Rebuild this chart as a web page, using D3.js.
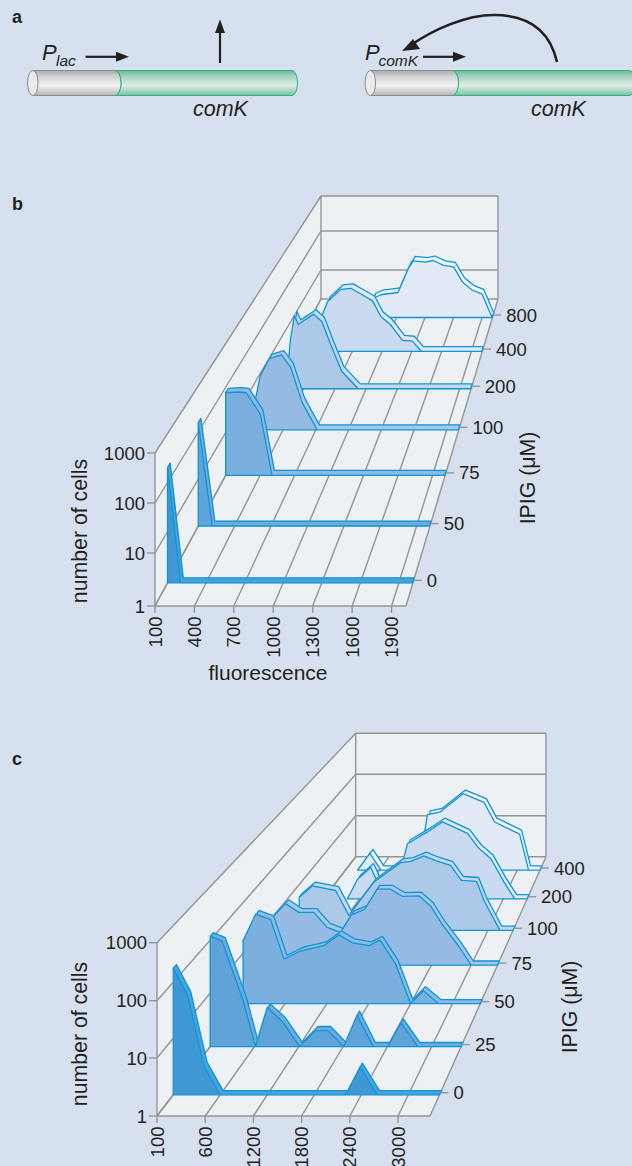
<!DOCTYPE html>
<html><head><meta charset="utf-8">
<script src="https://cdn.jsdelivr.net/npm/d3@7/dist/d3.min.js"></script>
<style>html,body{margin:0;padding:0;background:#d7e0ef}svg{display:block}text{font-family:"Liberation Sans",Arial,sans-serif;fill:#231f20}</style>
</head><body><div id="chart"></div>
<script>
// Panel b: [fluorescence, number of cells]
const b800=[[680,1],[757,3.5],[835,4.4],[1015,5.1],[1127,25],[1176,40],[1303,37],[1384,41],[1496,30],[1601,27],[1696,10],[1795,6],[1901,4.6],[2006,1]];
const b400=[[300,1],[392,8.7],[453,22],[586,47],[687,50],[805,33],[905,23],[988,8.7],[1082,5.4],[1206,2],[1307,1.9],[1397,1],[2006,1]];
const b200=[[230,1],[272,17.5],[310,73],[348,44],[496,80],[576,51],[662,13],[765,2.8],[924,1],[2006,1]];
const b100=[[100,1],[148,5.5],[191,20],[274,52],[385,64],[471,32],[575,4.6],[712,1],[2006,1]];
const b75=[[100,76],[213,79],[280,76],[402,24.5],[503,1],[2006,1]];
const b50=[[100,164],[215,1],[2006,1]];
const b0=[[100,209],[202,1],[2006,1]];
const bSeries=[b0,b50,b75,b100,b200,b400,b800];
const bDepthLabels=["0","50","75","100","200","400","800"];
const bXTicks=[100,400,700,1000,1300,1600,1900];
const bXLabels=["100","400","700","1000","1300","1600","1900"];

// Panel c
const c400=[[213,1],[428,2.5],[619,1],[1386,1],[1386,8.6],[1433,21],[1647,24],[2055,66],[2421,41],[2606,14],[3042,7.2],[3199,1],[3398,1]];
const c200=[[402,1],[568,2.8],[790,5.2],[907,2.3],[986,1],[1300,1],[1320,6.7],[1402,18],[1735,33.6],[1985,57],[2402,31],[2596,14],[2791,8.3],[3012,2.4],[3191,1],[3398,1]];
const c100=[[0,5.3],[208,9.3],[578,7.4],[790,2.1],[844,2.7],[1187,11.3],[1611,30],[1770,32],[1981,42],[2167,33],[2405,26],[2576,12.3],[2818,11.7],[2946,4.2],[3189,1],[3398,1]];
const c75=[[0,10],[195,19],[396,12.5],[622,12.5],[825,6.1],[1026,4.8],[1188,11],[1393,14.6],[1580,38],[1781,38],[1958,27],[2209,27.6],[2386,17],[2560,7.1],[2809,2.5],[3001,1],[3398,1]];
const c50=[[0,17.6],[180,59],[395,46],[586,7.6],[825,11],[1158,14],[1373,23],[1565,16],[1803,14],[1963,18],[2185,6.1],[2400,1],[2582,1.8],[2805,1],[3398,1]];
const c25=[[0,118],[162,95],[298,28],[455,6.7],[613,1],[772,5.4],[975,3],[1213,1],[1426,2],[1598,2],[1809,1],[1990,3.9],[2207,1],[2405,1],[2586,2.8],[2811,1],[3398,1]];
const c0=[[0,176],[181,59],[394,3.2],[598,1],[2202,1],[2385,3.1],[2606,1],[3398,1]];
const cSeries=[c0,c25,c50,c75,c100,c200,c400];
const cDepthLabels=["0","25","50","75","100","200","400"];
const cXTicks=[0,600,1200,1800,2400,3000];
const cXLabels=["100","600","1200","1800","2400","3000"];

const yTickValues=[1,10,100,1000];
const fillColors=["#3f98d3","#5fa3d8","#7bafdd","#95bae3","#adc9e9","#c9daf1","#e1eaf6"];
const ribbonColors=["#4aa2dc","#6dabdf","#8cbae4","#a6c7e9","#c4d9f0","#dfe9f6","#f1f6fb"];
const stroke="#0f95d5", gridColor="#939597";

const W=632,H=1166;
const svg=d3.select("#chart").append("svg").attr("width",W).attr("height",H);
svg.append("rect").attr("width",W).attr("height",H).attr("fill","#d7e0ef");
const defs=svg.append("defs");
function grad(id,stops){const g=defs.append("linearGradient").attr("id",id).attr("x1",0).attr("x2",0).attr("y1",0).attr("y2",1);
  stops.forEach(([o,c])=>g.append("stop").attr("offset",o).attr("stop-color",c));}
grad("grey",[[0,"#a9abad"],[.25,"#d2d3d4"],[.6,"#f4f4f4"],[1,"#b3b4b6"]]);
grad("green",[[0,"#6fb79c"],[.25,"#a8d3c2"],[.6,"#dcede6"],[1,"#7cbea6"]]);

function txt(x,y,s,size,opt={}){const t=svg.append("text").attr("x",x).attr("y",y).attr("font-size",size).text(s);
  if(opt.italic)t.attr("font-style","italic"); if(opt.bold)t.attr("font-weight",700);
  if(opt.anchor)t.attr("text-anchor",opt.anchor); return t;}

// Panel a
function cylinder(dx){
  const g=svg.append("g").attr("transform",`translate(${dx},0)`);
  g.append("path").attr("d","M115,70.5 L292,70.5 A5.5,12.5 0 0 1 292,95.5 L115,95.5 A6,12.5 0 0 0 115,70.5Z").attr("fill","url(#green)").attr("stroke","#2db57a").attr("stroke-width",1);
  g.append("path").attr("d","M33,70.5 L115,70.5 A6,12.5 0 0 1 115,95.5 L33,95.5 A5.5,12.5 0 0 1 33,70.5Z").attr("fill","url(#grey)");
  g.append("path").attr("d","M33,70.5 L115,70.5 M33,95.5 L115,95.5").attr("stroke","#8a8c8e").attr("stroke-width",1);
  g.append("path").attr("d","M115,70.5 A6,12.5 0 0 1 115,95.5").attr("fill","none").attr("stroke","#2db57a").attr("stroke-width",1);
  g.append("ellipse").attr("cx",32.8).attr("cy",83).attr("rx",5.3).attr("ry",12.5).attr("fill","#e9eaea").attr("stroke","#8a8c8e").attr("stroke-width",1);
}
cylinder(0);cylinder(337.5);
function arrowH(x1,x2,y){svg.append("path").attr("d",`M${x1},${y}H${x2-12}`).attr("stroke","#231f20").attr("stroke-width",2.2);
  svg.append("path").attr("d",`M${x2},${y}L${x2-13},${y-5}V${y+5}Z`).attr("fill","#231f20");}
arrowH(85.5,129,56.8);arrowH(423,466,56.8);
svg.append("path").attr("d","M220,63V30").attr("stroke","#231f20").attr("stroke-width",2.2);
svg.append("path").attr("d","M220,19.5L225,33H215Z").attr("fill","#231f20");
svg.append("path").attr("d","M557,62C549,27 524,15 494,15C465,15 433,30 411,45").attr("fill","none").attr("stroke","#231f20").attr("stroke-width",2.6);
svg.append("path").attr("d","M402,51L413,39L420,49Z").attr("fill","#231f20");
txt(12,23,"a",18,{bold:true});txt(12,210,"b",18,{bold:true});txt(12,765,"c",18,{bold:true});
txt(42,60,"P",22,{italic:true});txt(56,66,"lac",15.5,{italic:true});
txt(193,116,"comK",21.5,{italic:true});
txt(365,60,"P",22,{italic:true});txt(378.5,66,"comK",15.5,{italic:true});
txt(531,116,"comK",21.5,{italic:true});

// Panel drawing: perspective box
function panel(cfg){
  const g=svg.append("g");
  const K=0.43, DS=0.016;
  const persp=d=>d*(1+K)/(1+K*d);
  const depth=d3.scaleLinear().domain([0,6]).range(cfg.depthRange);
  const xU=d3.scaleLinear().domain(cfg.xDomain).range([0,1]);
  const yV=d3.scaleLog().domain([1,1000]).range([0,1]);
  const left=d3.scaleLinear().domain([0,1]).range([cfg.fl,cfg.bl]);
  const right=d3.scaleLinear().domain([0,1]).range([cfg.fr,cfg.br]);
  const floorY=d3.scaleLinear().domain([0,1]).range([cfg.fy,cfg.by]);
  const height=d3.scaleLinear().domain([0,1]).range([cfg.fh,cfg.bh]);
  const wallF=d3.scaleLog().domain(yTickValues).range(cfg.frontRows);
  const wallB=d3.scaleLog().domain(yTickValues).range(cfg.backRows);
  const px=(x,s)=>{const u=xU(x);return left(s)+u*(right(s)-left(s));};
  const py=(c,s)=>floorY(s)-yV(c)*height(s);
  const poly=d3.line().x(p=>p[0]).y(p=>p[1]);
  const closed=pts=>poly(pts)+"Z";
  const top1000=yTickValues[3];
  // walls
  g.append("path").attr("d",closed([[cfg.fl,wallF(top1000)],[cfg.fl,cfg.fy],[cfg.bl,cfg.by],[cfg.bl,wallB(top1000)]])).attr("fill","#edf1f3");
  g.append("path").attr("d",closed([[cfg.bl,wallB(top1000)],[cfg.br,wallB(top1000)],[cfg.br,cfg.by],[cfg.bl,cfg.by]])).attr("fill","#edf1f3");
  g.append("path").attr("d",closed([[cfg.fl,cfg.fy],[cfg.fr,cfg.fy],[cfg.br,cfg.by],[cfg.bl,cfg.by]])).attr("fill","#edf1f3");
  const ln=(a,b)=>g.append("path").attr("d",poly([a,b])).attr("stroke",gridColor).attr("stroke-width",1.4).attr("fill","none");
  yTickValues.forEach(v=>{
    ln([cfg.fl,wallF(v)],[cfg.bl,wallB(v)]);
    ln([cfg.bl,wallB(v)],[cfg.br,wallB(v)]);
    ln([cfg.fl-8,wallF(v)],[cfg.fl,wallF(v)]);
    g.append("text").attr("x",cfg.fl-10).attr("y",wallF(v)+6.5).attr("text-anchor","end").attr("font-size",18.5).text(v);
  });
  ln([cfg.fl,wallF(top1000)],[cfg.fl,cfg.fy]);
  ln([cfg.bl,wallB(top1000)],[cfg.bl,cfg.by]);
  ln([cfg.br,wallB(top1000)],[cfg.br,cfg.by]);
  ln([cfg.fl,cfg.fy],[cfg.fr,cfg.fy]);
  ln([cfg.fr,cfg.fy],[cfg.br,cfg.by]);
  cfg.xTicks.forEach((t,i)=>{
    ln([px(t,0),floorY(0)],[px(t,1),floorY(1)]);
    ln([px(t,0),floorY(0)],[px(t,0),floorY(0)+7]);
    const x=px(t,0)+6.5,y=floorY(0)+10.5;
    g.append("text").attr("x",x).attr("y",y).attr("text-anchor","end").attr("font-size",18.5).attr("transform",`rotate(-90 ${x} ${y})`).text(cfg.xLabels[i]);
  });
  // series back to front
  d3.range(cfg.series.length-1,-1,-1).forEach(i=>{
    const data=cfg.series[i], s=persp(depth(i)), sb=s+DS;
    const ribbon=g.append("g");
    d3.pairs(data).forEach(([a,b])=>{
      ribbon.append("path").attr("d",closed([[px(a[0],s),py(a[1],s)],[px(b[0],s),py(b[1],s)],[px(b[0],sb),py(b[1],sb)],[px(a[0],sb),py(a[1],sb)]]))
        .attr("fill",ribbonColors[i]).attr("stroke",ribbonColors[i]).attr("stroke-width",.4);
    });
    const backPts=data.map(d=>[px(d[0],sb),py(d[1],sb)]);
    const n=data.length-1;
    const outline=[[px(data[0][0],s),py(data[0][1],s)],...backPts,[px(data[n][0],s),py(data[n][1],s)]];
    ribbon.append("path").attr("d",poly(outline)).attr("fill","none").attr("stroke",stroke).attr("stroke-width",1.3).attr("stroke-linejoin","round");
    const first=data[0][0], last=data[n][0];
    const pts=[[px(first,s),floorY(s)],...data.map(d=>[px(d[0],s),py(d[1],s)]),[px(last,s),floorY(s)]];
    g.append("path").attr("d",closed(pts)).attr("fill",fillColors[i]).attr("stroke",stroke).attr("stroke-width",1.3).attr("stroke-linejoin","round");
    // depth tick and label
    const sm=s+DS/2, ty=floorY(sm);
    ln([right(sm),ty],[right(sm)+8,ty]);
    g.append("text").attr("x",right(sm)+13).attr("y",ty+6.5).attr("font-size",18.5).text(cfg.depthLabels[i]);
  });
  // axis titles
  const t=(x,y,s)=>g.append("text").attr("x",x).attr("y",y).attr("text-anchor","middle").attr("font-size",21.3).attr("transform",`rotate(-90 ${x} ${y})`).text(s);
  t(cfg.cellsX,cfg.cellsY,"number of cells");
  t(cfg.ipigX,cfg.ipigY,"IPIG (μM)");
}

panel({series:bSeries,depthLabels:bDepthLabels,xTicks:bXTicks,xLabels:bXLabels,xDomain:[100,2010],depthRange:[.054,.916],
  fl:155,fr:406,bl:321,br:498,fy:606,by:299,fh:153,bh:103,
  frontRows:[606,553,503,453],backRows:[299,270,231,196],
  cellsX:87,cellsY:531,ipigX:535,ipigY:478});
svg.append("text").attr("x",268).attr("y",680).attr("text-anchor","middle").attr("font-size",21).text("fluorescence");

panel({series:cSeries,depthLabels:cDepthLabels,xTicks:cXTicks,xLabels:cXLabels,xDomain:[0,3398],depthRange:[.0586,.9277],
  fl:157,fr:430,bl:355.7,br:546,fy:1116,by:856.7,fh:173.3,bh:123.4,
  frontRows:[1116,1058,1000.7,942.7],backRows:[856.7,815.7,774.3,733.3],
  cellsX:87,cellsY:1034,ipigX:577,ipigY:1007});
</script></body></html>
